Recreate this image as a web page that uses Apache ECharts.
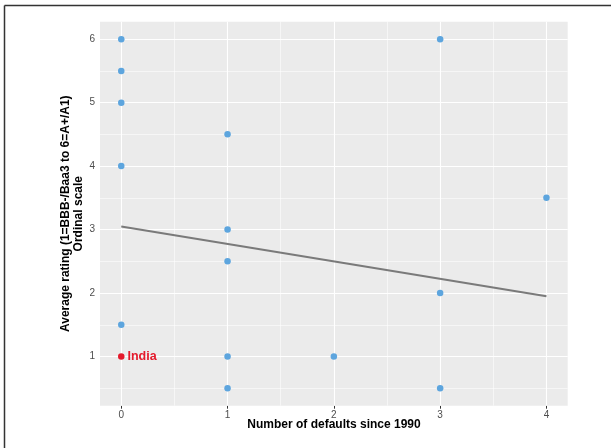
<!DOCTYPE html>
<html>
<head>
<meta charset="utf-8">
<script src="https://cdn.jsdelivr.net/npm/echarts@6/dist/echarts.min.js"></script>
<style>html,body{margin:0;padding:0;background:#fff;}#c{width:611px;height:448px;}</style>
</head>
<body>
<div id="c"></div>
<script>
// Data
const defaults = [0, 0, 0, 0, 0, 1, 1, 1, 1, 1, 2, 3, 3, 3, 4];
const ratings  = [6, 5.5, 5, 4, 1.5, 4.5, 3, 2.5, 1, 0.5, 1, 6, 2, 0.5, 3.5];
const indiaPoint = [0, 1];
const indiaLabel = 'India';
const trendX = [0, 4];
const trendY = [3.05, 1.95];
const xTicks = [0, 1, 2, 3, 4];
const xMinor = [0.5, 1.5, 2.5, 3.5];
const yTicks = [1, 2, 3, 4, 5, 6];
const yMinor = [0.5, 1.5, 2.5, 3.5, 4.5, 5.5];

const chart = echarts.init(document.getElementById('c'), null, {renderer: 'canvas'});
const font = '"Liberation Sans", Arial, Helvetica, sans-serif';

const gridLines = [];
xTicks.forEach(v => gridLines.push({xAxis: v, lineStyle: {width: 1.1}}));
xMinor.forEach(v => gridLines.push({xAxis: v, lineStyle: {width: 0.55}}));
yTicks.forEach(v => gridLines.push({yAxis: v, lineStyle: {width: 1.1}}));
yMinor.forEach(v => gridLines.push({yAxis: v, lineStyle: {width: 0.55}}));

chart.setOption({
  animation: false,
  backgroundColor: '#ffffff',
  grid: {left: 100, right: 43.3, top: 21.7, bottom: 42.3, show: true, backgroundColor: '#EBEBEB', borderWidth: 0},
  xAxis: {
    type: 'value', min: -0.2, max: 4.2,
    axisLine: {show: false},
    splitLine: {show: false},
    axisTick: {show: true, customValues: xTicks, length: 3, lineStyle: {color: '#333333', width: 1}},
    axisLabel: {customValues: xTicks, color: '#4D4D4D', fontSize: 10, fontFamily: font, margin: 5}
  },
  yAxis: {
    type: 'value', min: 0.225, max: 6.275,
    axisLine: {show: false},
    splitLine: {show: false},
    axisTick: {show: true, customValues: yTicks, length: 3, lineStyle: {color: '#333333', width: 1}},
    axisLabel: {customValues: yTicks, color: '#4D4D4D', fontSize: 10, fontFamily: font, margin: 5}
  },
  series: [
    {
      type: 'line', data: [], silent: true, z: 1,
      markLine: {silent: true, symbol: 'none', label: {show: false}, animation: false,
        lineStyle: {color: '#ffffff', type: 'solid'}, data: gridLines}
    },
    {
      type: 'line', showSymbol: false, symbol: 'none', z: 5,
      lineStyle: {color: '#7A7A7A', width: 2},
      data: trendX.map((d, i) => [d, trendY[i]])
    },
    {
      type: 'scatter', symbolSize: 6.5, z: 6,
      itemStyle: {color: '#5DA5DE', opacity: 1},
      data: defaults.map((d, i) => [d, ratings[i]])
    },
    {
      type: 'scatter', symbolSize: 6.5, z: 7,
      itemStyle: {color: '#E41A2C', opacity: 1},
      label: {show: true, formatter: indiaLabel, position: 'right', distance: 3,
        color: '#E41A2C', fontWeight: 'bold', fontSize: 12.5, fontFamily: font},
      data: [indiaPoint]
    }
  ],
  graphic: [
    {type: 'line', shape: {x1: 4.5, y1: 5.5, x2: 611, y2: 5.5}, style: {stroke: '#333333', lineWidth: 1.5}},
    {type: 'line', shape: {x1: 4.5, y1: 5.5, x2: 4.5, y2: 448}, style: {stroke: '#333333', lineWidth: 1.5}},
    {type: 'text', x: 334, y: 425,
      style: {text: 'Number of defaults since 1990', font: 'bold 12px ' + font, fill: '#000', align: 'center', verticalAlign: 'middle'}},
    {type: 'text', x: 72.5, y: 213.7, rotation: Math.PI / 2,
      style: {text: 'Average rating (1=BBB-/Baa3 to 6=A+/A1)\nOrdinal scale', font: 'bold 12px ' + font, fill: '#000', align: 'center', verticalAlign: 'middle', lineHeight: 13}}
  ]
});
</script>
</body>
</html>
